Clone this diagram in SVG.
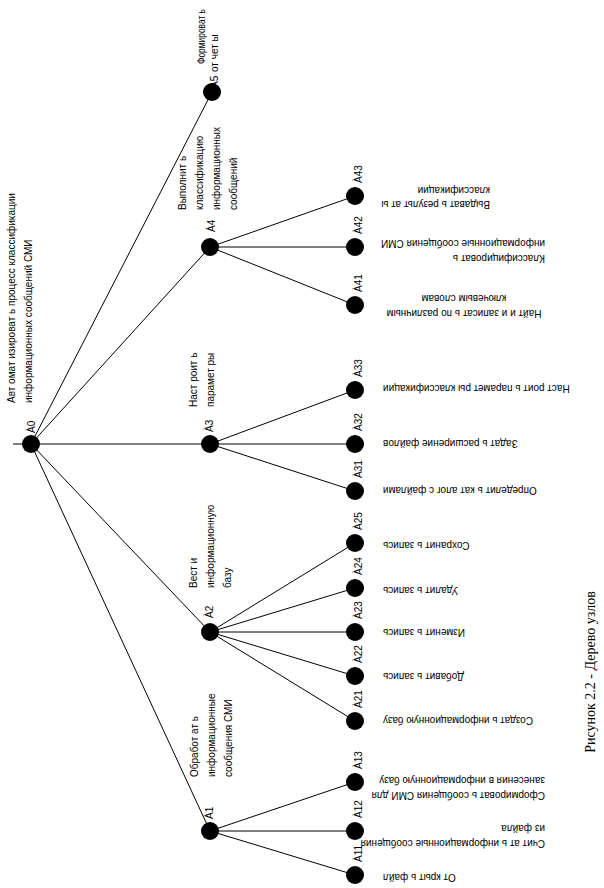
<svg xmlns="http://www.w3.org/2000/svg" width="604" height="888" viewBox="0 0 604 888">
<style>
.e{stroke:#000;stroke-width:1;fill:none}
.n{fill:#000}
text{font-family:"Liberation Sans",Arial,sans-serif;font-size:10px;fill:#000}
.cap{font-family:"Liberation Serif","Times New Roman",serif;font-size:14px}
</style>
<rect width="604" height="888" fill="#fff"/>
<g id="connectors">
<line class="e" x1="13" y1="444" x2="355" y2="444"/>
<line class="e" x1="31" y1="444" x2="212" y2="92"/>
<line class="e" x1="31" y1="444" x2="210" y2="247"/>
<line class="e" x1="31" y1="444" x2="210" y2="632"/>
<line class="e" x1="31" y1="444" x2="210" y2="831"/>
<line class="e" x1="210" y1="247" x2="355" y2="196"/>
<line class="e" x1="210" y1="247" x2="355" y2="247"/>
<line class="e" x1="210" y1="247" x2="355" y2="305"/>
<line class="e" x1="210" y1="444" x2="355" y2="390"/>
<line class="e" x1="210" y1="444" x2="355" y2="491"/>
<line class="e" x1="210" y1="632" x2="355" y2="543"/>
<line class="e" x1="210" y1="632" x2="355" y2="588"/>
<line class="e" x1="210" y1="632" x2="355" y2="632"/>
<line class="e" x1="210" y1="632" x2="355" y2="676"/>
<line class="e" x1="210" y1="632" x2="355" y2="721"/>
<line class="e" x1="210" y1="831" x2="355" y2="782"/>
<line class="e" x1="210" y1="831" x2="355" y2="831"/>
<line class="e" x1="210" y1="831" x2="355" y2="875"/>
</g>
<g id="A0">
<circle class="n" cx="31" cy="444" r="9"/>
<text transform="translate(35,433) rotate(-90)">À0</text>
<text transform="translate(15,403) rotate(-90)">Авт омат изироват ь процесс классификации</text>
<text transform="translate(32,403) rotate(-90)">информационных сообщений СМИ</text>
</g>
<g id="A5">
<circle class="n" cx="212" cy="92" r="9"/>
<text transform="translate(218,88) rotate(-90)">À5</text>
<text transform="translate(205,64) rotate(-90)" textLength="55" lengthAdjust="spacingAndGlyphs">Формироват ь</text>
<text transform="translate(218,72) rotate(-90)">от чет ы</text>
</g>
<g id="A4">
<circle class="n" cx="210" cy="247" r="9"/>
<text transform="translate(215,232) rotate(-90)">À4</text>
<text transform="translate(186,210) rotate(-90)">Выполнит ь</text>
<text transform="translate(203,210) rotate(-90)">классификацию</text>
<text transform="translate(220,210) rotate(-90)">информационных</text>
<text transform="translate(237,210) rotate(-90)">сообщений</text>
</g>
<g id="A3">
<circle class="n" cx="210" cy="444" r="9"/>
<text transform="translate(213,432) rotate(-90)">À3</text>
<text transform="translate(197,407) rotate(-90)">Наст роит ь</text>
<text transform="translate(214,407) rotate(-90)">парамет ры</text>
</g>
<g id="A2">
<circle class="n" cx="210" cy="632" r="9"/>
<text transform="translate(213,618) rotate(-90)">À2</text>
<text transform="translate(197,588) rotate(-90)">Вест и</text>
<text transform="translate(214,588) rotate(-90)">информационную</text>
<text transform="translate(231,588) rotate(-90)">базу</text>
</g>
<g id="A1">
<circle class="n" cx="210" cy="831" r="9"/>
<text transform="translate(213,819) rotate(-90)">À1</text>
<text transform="translate(198,777) rotate(-90)">Обработ ат ь</text>
<text transform="translate(215,777) rotate(-90)">информационные</text>
<text transform="translate(232,777) rotate(-90)">сообщения СМИ</text>
</g>
<g id="A43">
<circle class="n" cx="355" cy="196" r="9"/>
<text transform="translate(362,183) rotate(-90)">À43</text>
<text transform="translate(490,201) rotate(180)">Выдават ь результ ат ы</text>
<text transform="translate(490,187) rotate(180)">классификации</text>
</g>
<g id="A42">
<circle class="n" cx="355" cy="247" r="9"/>
<text transform="translate(362,234) rotate(-90)">À42</text>
<text transform="translate(545,255) rotate(180)">Классифицироват ь</text>
<text transform="translate(545,240) rotate(180)">информационные сообщения СМИ</text>
</g>
<g id="A41">
<circle class="n" cx="355" cy="305" r="9"/>
<text transform="translate(362,292) rotate(-90)">À41</text>
<text transform="translate(464,310) rotate(180)" text-anchor="middle">Найт и и записат ь по различным</text>
<text transform="translate(464,295) rotate(180)" text-anchor="middle">ключевым словам</text>
</g>
<g id="A33">
<circle class="n" cx="355" cy="390" r="9"/>
<text transform="translate(362,377) rotate(-90)">À33</text>
<text transform="translate(383,385) rotate(180)" text-anchor="end">Наст роит ь парамет ры классификации</text>
</g>
<g id="A32">
<circle class="n" cx="355" cy="444" r="9"/>
<text transform="translate(362,431) rotate(-90)">À32</text>
<text transform="translate(383,440) rotate(180)" text-anchor="end">Задат ь расширение файлов</text>
</g>
<g id="A31">
<circle class="n" cx="355" cy="491" r="9"/>
<text transform="translate(362,478) rotate(-90)">À31</text>
<text transform="translate(383,487) rotate(180)" text-anchor="end">Определит ь кат алог с файлами</text>
</g>
<g id="A25">
<circle class="n" cx="355" cy="543" r="9"/>
<text transform="translate(362,530) rotate(-90)">À25</text>
<text transform="translate(383,542) rotate(180)" text-anchor="end">Сохранит ь запись</text>
</g>
<g id="A24">
<circle class="n" cx="355" cy="588" r="9"/>
<text transform="translate(362,575) rotate(-90)">À24</text>
<text transform="translate(383,587) rotate(180)" text-anchor="end">Удалит ь запись</text>
</g>
<g id="A23">
<circle class="n" cx="355" cy="632" r="9"/>
<text transform="translate(362,619) rotate(-90)">À23</text>
<text transform="translate(383,629) rotate(180)" text-anchor="end">Изменит ь запись</text>
</g>
<g id="A22">
<circle class="n" cx="355" cy="676" r="9"/>
<text transform="translate(362,663) rotate(-90)">À22</text>
<text transform="translate(383,673) rotate(180)" text-anchor="end">Добавит ь запись</text>
</g>
<g id="A21">
<circle class="n" cx="355" cy="721" r="9"/>
<text transform="translate(362,708) rotate(-90)">À21</text>
<text transform="translate(383,717) rotate(180)" text-anchor="end">Создат ь информационную базу</text>
</g>
<g id="A13">
<circle class="n" cx="355" cy="782" r="9"/>
<text transform="translate(362,769) rotate(-90)">À13</text>
<text transform="translate(545,792) rotate(180)">Сформироват ь сообщения СМИ для</text>
<text transform="translate(545,777) rotate(180)">занесения в информационную базу</text>
</g>
<g id="A12">
<circle class="n" cx="355" cy="831" r="9"/>
<text transform="translate(362,818) rotate(-90)">À12</text>
<text transform="translate(545,840) rotate(180)">Счит ат ь информационные сообщения</text>
<text transform="translate(545,825) rotate(180)">из файла</text>
</g>
<g id="A11">
<circle class="n" cx="355" cy="875" r="9"/>
<text transform="translate(362,862) rotate(-90)">À11</text>
<text transform="translate(383,874) rotate(180)" text-anchor="end">От крыт ь файл</text>
</g>
<text class="cap" transform="translate(595,672) rotate(-90)" text-anchor="middle">Рисунок 2.2 - Дерево узлов</text>
</svg>
